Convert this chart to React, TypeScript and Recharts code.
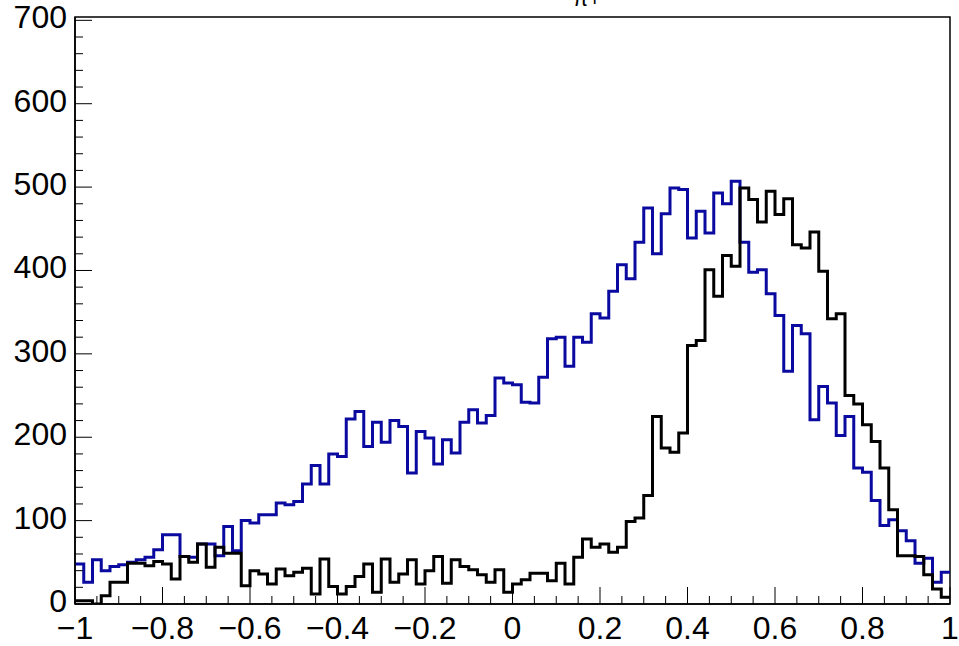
import React from "react";
import { ComposedChart, Line, XAxis, YAxis, ReferenceArea } from "recharts";

// 100 bins over [-1, 1]
const binCount = 100;
const xMin = -1;
const xMax = 1;

const countsBlue = [
  48, 26, 53, 40, 45, 47, 50, 53, 56, 65,
  83, 83, 57, 56, 72, 72, 58, 93, 64, 100,
  97, 107, 107, 121, 119, 123, 144, 166, 144, 180,
  177, 222, 231, 189, 218, 194, 220, 213, 157, 207,
  199, 168, 197, 181, 218, 233, 217, 226, 271, 265,
  263, 242, 241, 272, 318, 320, 285, 320, 314, 348,
  343, 375, 407, 390, 434, 475, 420, 468, 499, 497,
  439, 471, 445, 493, 480, 507, 434, 398, 401, 372,
  346, 279, 334, 324, 221, 261, 241, 202, 225, 163,
  158, 124, 94, 101, 88, 76, 49, 55, 26, 38,
];

const countsBlack = [
  4, 4, 0, 10, 26, 26, 49, 49, 46, 51,
  48, 30, 57, 50, 72, 44, 68, 61, 61, 22,
  40, 36, 24, 42, 34, 38, 43, 12, 54, 21,
  12, 21, 33, 48, 14, 54, 26, 36, 53, 24,
  40, 57, 25, 53, 45, 41, 35, 26, 41, 14,
  24, 29, 37, 37, 28, 49, 24, 56, 78, 68,
  72, 62, 68, 99, 103, 130, 225, 187, 182, 205,
  310, 316, 401, 369, 418, 405, 499, 485, 458, 495,
  467, 486, 431, 427, 446, 399, 342, 348, 250, 240,
  215, 195, 163, 113, 58, 58, 57, 35, 18, 8,
];

const xMajorLabels = ["\u22121", "\u22120.8", "\u22120.6", "\u22120.4", "\u22120.2", "0", "0.2", "0.4", "0.6", "0.8", "1"];
const yMajorLabels = ["0", "100", "200", "300", "400", "500", "600", "700"];
const yTop = 704;

const binWidth = (xMax - xMin) / binCount;

// step-after points at the low edge of each bin, plus a closing point at xMax
const data = countsBlue.map((v, i) => ({ x: xMin + i * binWidth, blue: v, black: countsBlack[i] }));
data.push({ x: xMax, blue: countsBlue[binCount - 1], black: countsBlack[binCount - 1] });

// 4 minor divisions per 0.2 on x, 5 per 100 on y
const xTicks: number[] = [];
for (let k = 0; k <= 40; k++) xTicks.push(+(xMin + k * 0.05).toFixed(2));
const yTicks: number[] = [];
for (let k = 0; k <= 35; k++) yTicks.push(k * 20);

const font = "'Liberation Sans', Arial, Helvetica, sans-serif";
const labelSize = 32;

const XTick = (props: any) => {
  const { x, y, index } = props;
  const major = index % 4 === 0;
  return (
    <g>
      <line x1={x} x2={x} y1={y} y2={y - (major ? 17 : 8)} stroke="#000" strokeWidth={1} />
      {major && (
        <text x={x} y={y + 35} textAnchor="middle" fontSize={labelSize} fontFamily={font} fill="#000">
          {xMajorLabels[index / 4]}
        </text>
      )}
    </g>
  );
};

const YTick = (props: any) => {
  const { x, y, index } = props;
  const major = index % 5 === 0;
  return (
    <g>
      <line x1={x} x2={x + (major ? 17 : 8)} y1={y} y2={y} stroke="#000" strokeWidth={1} />
      {major && (
        <text x={x - 8} y={y + 8} textAnchor="end" fontSize={labelSize} fontFamily={font} fill="#000">
          {yMajorLabels[index / 5]}
        </text>
      )}
    </g>
  );
};

export default function App() {
  return (
    <div style={{ position: "absolute", left: 0, top: 0, width: 959, height: 646, background: "#fff" }}>
      <ComposedChart width={959} height={646} data={data} margin={{ top: 17, right: 9, bottom: 0, left: 0 }}>
        <XAxis
          dataKey="x"
          type="number"
          domain={[xMin, xMax]}
          ticks={xTicks}
          interval={0}
          tickSize={0}
          tickMargin={0}
          height={42}
          tick={<XTick />}
          axisLine={{ stroke: "#000", strokeWidth: 1.5 }}
          allowDataOverflow
        />
        <YAxis
          type="number"
          domain={[0, yTop]}
          ticks={yTicks}
          interval={0}
          tickSize={0}
          tickMargin={0}
          width={75}
          tick={<YTick />}
          axisLine={{ stroke: "#000", strokeWidth: 1.5 }}
          allowDataOverflow
        />
        <ReferenceArea x1={xMin} x2={xMax} y1={0} y2={yTop} fill="none" stroke="#000" strokeWidth={1.5} />
        <Line
          dataKey="blue"
          type="stepAfter"
          stroke="#0a0aa0"
          strokeWidth={3}
          dot={false}
          isAnimationActive={false}
        />
        <Line
          dataKey="black"
          type="stepAfter"
          stroke="#000"
          strokeWidth={3}
          dot={false}
          isAnimationActive={false}
        />
        <text x={587} y={6} textAnchor="middle" fontSize={22} fontFamily={font} fill="#000">
          {"\u03c0+"}
        </text>
      </ComposedChart>
    </div>
  );
}
